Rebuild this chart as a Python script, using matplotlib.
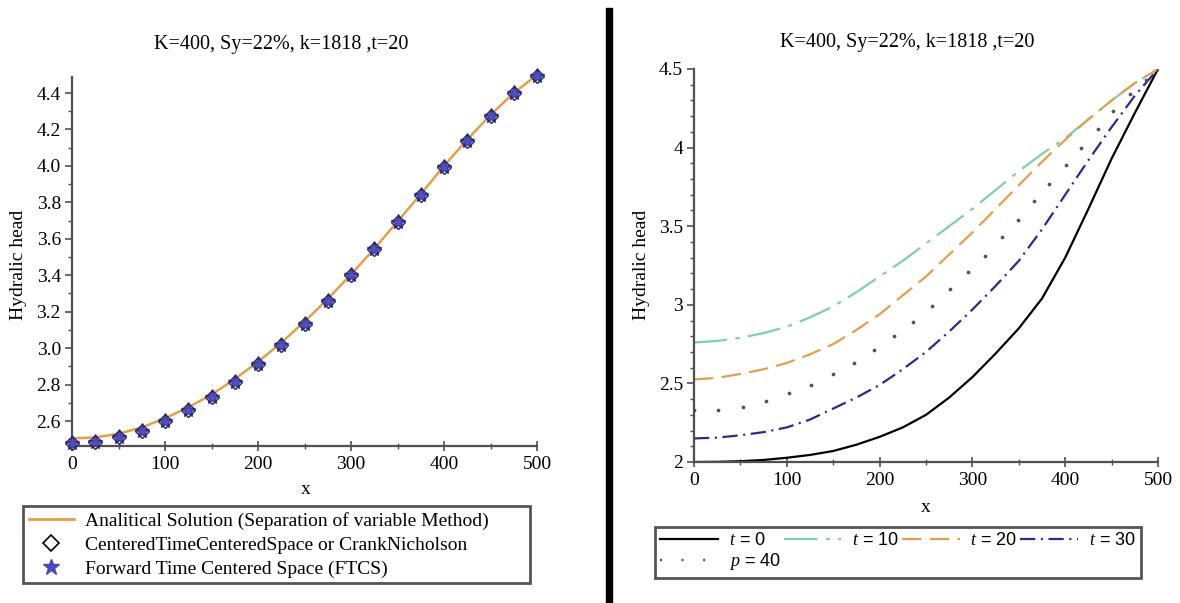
import numpy as np
import matplotlib
matplotlib.use("Agg")
import matplotlib.pyplot as plt
from matplotlib.patches import Rectangle
from matplotlib.lines import Line2D
from matplotlib.ticker import MultipleLocator, FuncFormatter

plt.rcParams['font.family'] = ['Liberation Serif', 'DejaVu Serif']
plt.rcParams['mathtext.fontset'] = 'custom'
plt.rcParams['mathtext.it'] = 'Liberation Serif:italic'
plt.rcParams['mathtext.rm'] = 'Liberation Sans'
plt.rcParams['lines.scale_dashes'] = False

# ---- left panel data (x every 25 m) ----
x_nodes = [0, 25, 50, 75, 100, 125, 150, 175, 200, 225, 250,
           275, 300, 325, 350, 375, 400, 425, 450, 475, 500]
analytical_head = [2.505, 2.51, 2.53, 2.565, 2.615, 2.675, 2.745, 2.83, 2.925, 3.03, 3.145,
                   3.27, 3.405, 3.545, 3.695, 3.845, 4.0, 4.145, 4.28, 4.40, 4.50]
ctcs_head = [2.478, 2.487, 2.514, 2.547, 2.60, 2.66, 2.73, 2.815, 2.912, 3.02, 3.135,
             3.26, 3.402, 3.544, 3.691, 3.841, 3.996, 4.139, 4.276, 4.398, 4.495]
ftcs_head = [2.478, 2.487, 2.514, 2.547, 2.60, 2.66, 2.73, 2.815, 2.912, 3.02, 3.135,
             3.26, 3.402, 3.544, 3.691, 3.841, 3.996, 4.139, 4.276, 4.398, 4.495]

# ---- right panel data ----
head_t0 = [2.0, 2.001, 2.005, 2.013, 2.027, 2.045, 2.07, 2.11, 2.16, 2.22, 2.30,
           2.41, 2.54, 2.69, 2.85, 3.04, 3.30, 3.61, 3.93, 4.22, 4.5]
head_t10 = [2.76, 2.77, 2.79, 2.82, 2.86, 2.92, 2.99, 3.08, 3.18, 3.28, 3.39,
            3.50, 3.61, 3.73, 3.85, 3.96, 4.06, 4.18, 4.30, 4.41, 4.5]
head_t20 = [2.525, 2.535, 2.56, 2.59, 2.63, 2.685, 2.75, 2.84, 2.94, 3.06, 3.18,
            3.32, 3.46, 3.61, 3.76, 3.91, 4.05, 4.18, 4.30, 4.41, 4.5]
head_t30 = [2.15, 2.155, 2.17, 2.19, 2.22, 2.27, 2.34, 2.41, 2.49, 2.59, 2.70,
            2.83, 2.97, 3.12, 3.28, 3.48, 3.70, 3.92, 4.13, 4.33, 4.5]
p40_x = [0, 26, 53, 78, 102, 126, 150, 172, 194, 216, 236, 256, 276, 295, 314,
         332, 349, 366, 383, 401, 417, 435, 452, 470, 487, 500]
p40_head = [2.33, 2.333, 2.35, 2.39, 2.44, 2.49, 2.56, 2.63, 2.71, 2.80, 2.89, 2.99,
            3.10, 3.21, 3.31, 3.43, 3.54, 3.66, 3.77, 3.89, 4.0, 4.12, 4.23, 4.34, 4.43, 4.5]

title = "K=400, Sy=22%, k=1818 ,t=20"

W, H = 1180, 603
fig = plt.figure(figsize=(W / 100, H / 100), dpi=100)


def add_axes_px(x0, y0, x1, y1):
    return fig.add_axes([x0 / W, 1 - y1 / H, (x1 - x0) / W, (y1 - y0) / H])


def style_axes(ax):
    for side in ['top', 'right']:
        ax.spines[side].set_visible(False)
    for side in ['left', 'bottom']:
        ax.spines[side].set_color('#505050')
        ax.spines[side].set_linewidth(1.6)
    ax.tick_params(axis='y', which='major', direction='out', length=5, width=1.2,
                   color='#505050', labelsize=14, pad=3)
    ax.tick_params(axis='y', which='minor', direction='out', length=3, width=1,
                   color='#505050')
    ax.tick_params(axis='x', which='major', direction='inout', length=7, width=1.2,
                   color='#505050', labelsize=14, pad=4)
    ax.tick_params(axis='x', which='minor', direction='inout', length=4, width=1,
                   color='#505050')
    ax.xaxis.set_major_locator(MultipleLocator(100))
    ax.xaxis.set_minor_locator(MultipleLocator(50))


# ---------------- left panel ----------------
ax1 = add_axes_px(72, 77, 537, 446)
style_axes(ax1)
ax1.plot(x_nodes, analytical_head, color='#E3A048', lw=1.8)
ax1.plot(x_nodes, ftcs_head, ls='none', marker='*', ms=11, color='#5050C0',
         mec='#3A3AA8', clip_on=False, zorder=3)
ax1.plot(x_nodes, ctcs_head, ls='none', marker='D', ms=7, mfc='none', mec='#24245A',
         mew=1.0, clip_on=False, zorder=4)
ax1.set_xlim(0, 500)
ax1.set_ylim(2.463, 4.488)
ax1.yaxis.set_major_locator(MultipleLocator(0.2))
ax1.yaxis.set_minor_locator(MultipleLocator(0.1))
ax1.yaxis.set_major_formatter(FuncFormatter(lambda v, p: f"{v:.1f}"))

h_line = Line2D([], [], color='#E3A048', lw=2)
h_ctcs = Line2D([], [], ls='none', marker='D', ms=8, mfc='none', mec='black', mew=1.2)
h_ftcs = Line2D([], [], ls='none', marker='*', ms=12, color='#4A4AB8')
leg1 = fig.legend([h_line, h_ctcs, h_ftcs],
                  ['Analitical Solution (Separation of variable Method)',
                   'CenteredTimeCenteredSpace or CrankNicholson',
                   'Forward Time Centered Space (FTCS)'],
                  loc='upper left', bbox_to_anchor=(23 / W, 1 - 583 / H, 507 / W, 77 / H),
                  mode='expand', borderaxespad=0, fontsize=14, handlelength=2.3,
                  handletextpad=0.6, labelspacing=0.32, borderpad=0.3,
                  fancybox=False, framealpha=1, edgecolor='#555555')
leg1.get_frame().set_linewidth(2)

fig.text(281 / W, 1 - 45 / H, title, ha='center', va='center', fontsize=14.5)
fig.text(306 / W, 1 - 490 / H, 'x', ha='center', va='center', fontsize=14)
fig.text(19 / W, 1 - 265 / H, 'Hydralic head', ha='center', va='center',
         rotation=90, fontsize=14)

# ---------------- right panel ----------------
ax2 = add_axes_px(694, 69, 1158, 462)
style_axes(ax2)
l0, = ax2.plot(x_nodes, head_t0, color='black', lw=1.6)
l10, = ax2.plot(x_nodes, head_t10, color='#7FCFAA', lw=1.6, ls=(0, (24, 6, 3, 6)))
l20, = ax2.plot(x_nodes, head_t20, color='#E3A048', lw=1.6, ls=(0, (14, 6)))
l30, = ax2.plot(x_nodes, head_t30, color='#2B2B8C', lw=1.6, ls=(0, (11, 4, 1.5, 4)))
ax2.plot(p40_x, p40_head, ls='none', marker='o', ms=1.7, color='#555555')
ax2.set_xlim(0, 500)
ax2.set_ylim(2, 4.5)
ax2.yaxis.set_major_locator(MultipleLocator(0.5))
ax2.yaxis.set_minor_locator(MultipleLocator(0.1))
ax2.yaxis.set_major_formatter(FuncFormatter(lambda v, p: f"{v:g}"))

h40 = Line2D([], [], ls=(0, (1.5, 14)), lw=1.7, color='#555555')
leg2 = fig.legend([l0, h40, l10, l20, l30],
                  ['$t$ = 0', '$p$ = 40', '$t$ = 10', '$t$ = 20', '$t$ = 30'],
                  ncol=4, loc='upper left',
                  bbox_to_anchor=(655 / W, 1 - 577 / H, 486 / W, 50 / H),
                  mode='expand', borderaxespad=0, handlelength=3.2,
                  handletextpad=0.6, labelspacing=0.1, borderpad=0.3, columnspacing=0.5,
                  fancybox=False, framealpha=1, edgecolor='#555555',
                  prop={'family': 'Liberation Sans', 'size': 13})
leg2.get_frame().set_linewidth(2)

fig.text(907 / W, 1 - 43 / H, title, ha='center', va='center', fontsize=14.5)
fig.text(926 / W, 1 - 508 / H, 'x', ha='center', va='center', fontsize=14)
fig.text(641 / W, 1 - 265 / H, 'Hydralic head', ha='center', va='center',
         rotation=90, fontsize=14)

# black separator bar between the panels
fig.patches.append(Rectangle((606 / W, 0), 6 / W, 1 - 8 / H, transform=fig.transFigure,
                             color='black', figure=fig))

fig.savefig('out.png', dpi=100)
